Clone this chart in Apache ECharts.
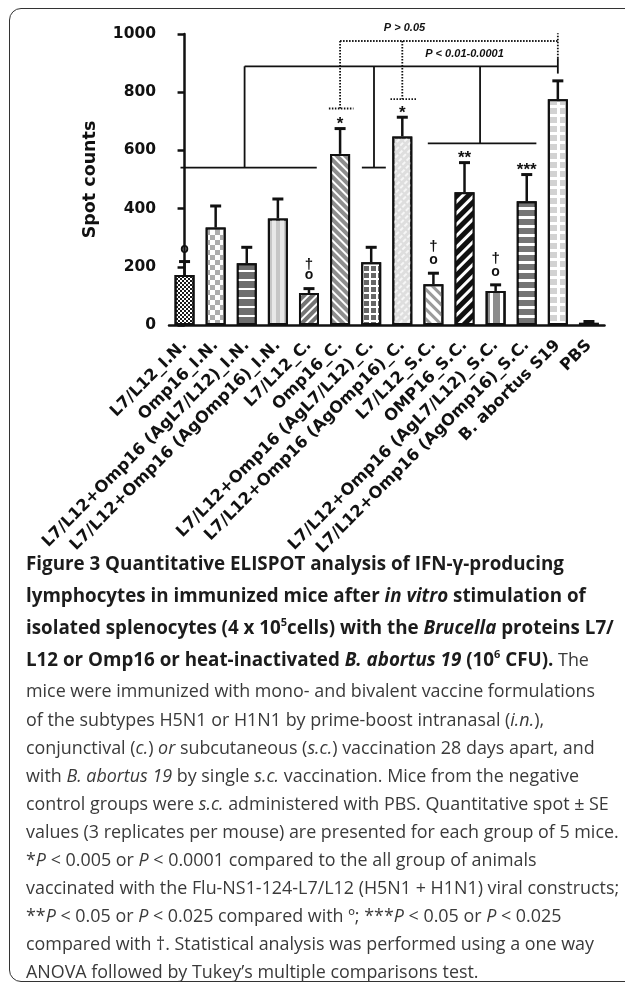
<!DOCTYPE html>
<html>
<head>
<meta charset="utf-8">
<script src="https://cdn.jsdelivr.net/npm/echarts@6/dist/echarts.min.js"></script>
<style>
  html, body { margin: 0; padding: 0; background: #fff; }
  #wrap { position: relative; width: 625px; height: 983px; overflow: hidden; }
  #frame { position: absolute; left: 9px; top: 8px; width: 660px; height: 974px;
           border: 1.5px solid #333; border-radius: 12px; box-sizing: border-box; }
  #chart { position: absolute; left: 0; top: 0; width: 625px; height: 983px; }
  .cap { position: absolute; left: 26px; white-space: nowrap; line-height: 28px;
         font-family: "Open Sans", sans-serif; font-size: 17.9px; color: #3a3a3a; }
  .cap.b { font-weight: bold; color: #1c1c1c; font-size: 18.8px; }
  .cap b { font-size: 18.8px; color: #1c1c1c; }
  .cap sup { font-size: 11px; line-height: 0; vertical-align: 8px; }
</style>
</head>
<body>
<div id="wrap">
  <div id="frame"></div>
  <div id="chart"></div>
  <div class="cap b" style="top:549px">Figure 3 Quantitative ELISPOT analysis of IFN-γ-producing</div>
  <div class="cap b" style="top:581px">lymphocytes in immunized mice after <i>in vitro</i> stimulation of</div>
  <div class="cap b" style="top:613px">isolated splenocytes (4 x 10<sup>5</sup>cells) with the <i>Brucella</i> proteins L7/</div>
  <div class="cap" style="top:645px"><b>L12 or Omp16 or heat-inactivated <i>B. abortus 19</i> (10<sup>6</sup> CFU).</b> The</div>
  <div class="cap" style="top:676px">mice were immunized with mono- and bivalent vaccine formulations</div>
  <div class="cap" style="top:705px">of the subtypes H5N1 or H1N1 by prime-boost intranasal (<i>i.n.</i>),</div>
  <div class="cap" style="top:733px">conjunctival (<i>c.</i>) <i>or</i> subcutaneous (<i>s.c.</i>) vaccination 28 days apart, and</div>
  <div class="cap" style="top:761px">with <i>B. abortus 19</i> by single <i>s.c.</i> vaccination. Mice from the negative</div>
  <div class="cap" style="top:789px">control groups were <i>s.c.</i> administered with PBS. Quantitative spot ± SE</div>
  <div class="cap" style="top:817px">values (3 replicates per mouse) are presented for each group of 5 mice.</div>
  <div class="cap" style="top:845px">*<i>P</i> &lt; 0.005 or <i>P</i> &lt; 0.0001 compared to the all group of animals</div>
  <div class="cap" style="top:873px">vaccinated with the Flu-NS1-124-L7/L12 (H5N1 + H1N1) viral constructs;</div>
  <div class="cap" style="top:901px">**<i>P</i> &lt; 0.05 or <i>P</i> &lt; 0.025 compared with º; ***<i>P</i> &lt; 0.05 or <i>P</i> &lt; 0.025</div>
  <div class="cap" style="top:929px">compared with †. Statistical analysis was performed using a one way</div>
  <div class="cap" style="top:957px">ANOVA followed by Tukey’s multiple comparisons test.</div>
</div>
<script>
// groups on the x axis
var groupNames = ["L7/L12_I.N.", "Omp16_I.N.", "L7/L12+Omp16 (AgL7/L12)_I.N.", "L7/L12+Omp16 (AgOmp16)_I.N.",
  "L7/L12_C.", "Omp16_C.", "L7/L12+Omp16 (AgL7/L12)_C.", "L7/L12+Omp16 (AgOmp16)_C.",
  "L7/L12_S.C.", "OMP16_S.C.", "L7/L12+Omp16 (AgL7/L12)_S.C.", "L7/L12+Omp16 (AgOmp16)_S.C.",
  "B. abortus S19", "PBS"];
// mean spot counts and SE
var spotMeans = [172, 335, 212, 366, 110, 588, 216, 648, 140, 456, 117, 425, 776, 8];
var spotSE = [46, 74, 55, 67, 15, 87, 51, 66, 38, 102, 21, 92, 63, 4];
var yTicks = [0, 200, 400, 600, 800, 1000];

// significance marks above bars: [group index, y value, text]
var sigMarks = [
  [0, 252, "o"], [4, 206, "†"], [4, 160, "o"], [5, 705, "*"], [7, 740, "*"],
  [8, 267, "†"], [8, 212, "o"], [9, 588, "**"], [10, 229, "†"], [10, 172, "o"], [11, 545, "***"]
];
// comparison brackets: [x1, y1, x2, y2, dotted] (x in group index units)
var bracketLines = [
  [-0.13, 541, 4.25, 541, 0], [1.93, 541, 1.93, 889, 0],
  [5.7, 541, 6.47, 541, 0], [6.09, 541, 6.09, 889, 0],
  [7.82, 624, 11.31, 624, 0], [9.5, 624, 9.5, 889, 0],
  [1.93, 889, 12.0, 889, 0], [12.0, 864, 12.0, 917, 0],
  [5.0, 976, 12.0, 976, 1], [5.0, 976, 5.0, 744, 1], [4.64, 744, 5.43, 744, 1],
  [7.0, 976, 7.0, 776, 1], [6.62, 776, 7.45, 776, 1], [12.0, 917, 12.0, 1003, 1]
];
var bracketTexts = [[7.07, 1021, "P > 0.05"], [9.0, 932, "P < 0.01-0.0001"]];

// fill + decal per bar
var barLooks = [
  { c: '#ffffff', d: { symbol: 'rect', symbolSize: 1, color: '#1a1a1a', dashArrayX: [[2, 2], [0, 2, 2, 0]], dashArrayY: [2, 0] } },
  { c: '#ffffff', d: { symbol: 'rect', symbolSize: 1, color: '#adadad', dashArrayX: [[5, 5], [0, 5, 5, 0]], dashArrayY: [5, 0] } },
  { c: '#6e6e6e', d: { symbol: 'rect', symbolSize: 1, color: '#ffffff', dashArrayX: [1, 0], dashArrayY: [1.5, 7] } },
  { c: '#c6c6c6', d: { symbol: 'rect', symbolSize: 1, color: '#e8e8e8', dashArrayX: [4, 4], dashArrayY: [1, 0] } },
  { c: '#747474', d: { symbol: 'rect', symbolSize: 1, color: '#ffffff', dashArrayX: [1, 0], dashArrayY: [1.5, 4], rotation: -Math.PI / 4 } },
  { c: '#8e8e8e', d: { symbol: 'rect', symbolSize: 1, color: '#ffffff', dashArrayX: [1, 0], dashArrayY: [1.5, 4], rotation: Math.PI / 4 } },
  { c: '#ffffff', d: { symbol: 'rect', symbolSize: 1, color: '#666666', dashArrayX: [5, 1.5], dashArrayY: [5, 1.5] } },
  { c: '#dedede', d: { symbol: 'rect', symbolSize: 1, color: '#f6f6f6', dashArrayX: [4, 2], dashArrayY: [2, 3], rotation: -Math.PI / 4 } },
  { c: '#ffffff', d: { symbol: 'rect', symbolSize: 1, color: '#9a9a9a', dashArrayX: [1, 0], dashArrayY: [3, 4], rotation: Math.PI / 4 } },
  { c: '#111111', d: { symbol: 'rect', symbolSize: 1, color: '#ffffff', dashArrayX: [1, 0], dashArrayY: [3, 5], rotation: -Math.PI / 4 } },
  { c: '#8c8c8c', d: { symbol: 'rect', symbolSize: 1, color: '#ffffff', dashArrayX: [2.5, 6.5], dashArrayY: [1, 0] } },
  { c: '#757575', d: { symbol: 'rect', symbolSize: 1, color: '#ffffff', dashArrayX: [1, 0], dashArrayY: [3, 5.5] } },
  { c: '#ffffff', d: { symbol: 'rect', symbolSize: 1, color: '#d2d2d2', dashArrayX: [7, 2.5], dashArrayY: [6, 3] } },
  { c: '#111111', d: null }
];

var chart = echarts.init(document.getElementById('chart'));

var barData = spotMeans.map(function (v, i) {
  var look = barLooks[i];
  var item = { value: v, itemStyle: { color: look.c } };
  if (look.d) item.itemStyle.decal = look.d;
  return item;
});

var option = {
  animation: false,
  grid: { left: 169, right: 20.5, top: 34, bottom: 658, containLabel: false },
  xAxis: [{
    type: 'category',
    data: groupNames,
    axisLine: { lineStyle: { color: '#111', width: 2.5 } },
    axisTick: { alignWithLabel: true, length: 7, lineStyle: { color: '#111', width: 2.5 } },
    axisLabel: { rotate: 45, margin: 18, interval: 0, color: '#111',
      fontFamily: 'DejaVu Sans', fontWeight: 'bold', fontSize: 16.3 }
  }, {
    type: 'value', min: -0.5, max: 13.5, show: false
  }],
  yAxis: {
    type: 'value', min: 0, max: 1000, interval: 200,
    name: 'Spot counts', nameLocation: 'middle', nameGap: 70,
    nameTextStyle: { fontFamily: 'DejaVu Sans', fontWeight: 'bold', fontSize: 17.5, color: '#111' },
    axisLine: { show: true, lineStyle: { color: '#111', width: 2.5 } },
    axisTick: { show: true, length: 7, lineStyle: { color: '#111', width: 2.5 } },
    splitLine: { show: false },
    axisLabel: { margin: 13, color: '#111', fontFamily: 'DejaVu Sans', fontWeight: 'bold', fontSize: 15.5,
      formatter: function (v) { return yTicks.indexOf(v) >= 0 ? String(v) : ''; } }
  },
  series: [
    {
      type: 'bar', data: barData, barWidth: 20,
      itemStyle: { borderColor: '#111', borderWidth: 2 }, z: 3
    },
    {
      type: 'custom', z: 2,
      data: spotMeans.map(function (v, i) { return [i, v, spotSE[i]]; }),
      renderItem: function (params, api) {
        var base = api.coord([api.value(0), api.value(1)]);
        var top = api.coord([api.value(0), api.value(1) + api.value(2)]);
        return { type: 'group', children: [
          { type: 'line', shape: { x1: base[0], y1: base[1], x2: top[0], y2: top[1] }, style: { stroke: '#111', lineWidth: 2.5 } },
          { type: 'line', shape: { x1: top[0] - 5.5, y1: top[1], x2: top[0] + 5.5, y2: top[1] }, style: { stroke: '#111', lineWidth: 3 } }
        ] };
      }
    },
    {
      type: 'custom', z: 5,
      data: sigMarks.map(function (m) { return [m[0], m[1]]; }),
      renderItem: function (params, api) {
        var p = api.coord([api.value(0), api.value(1)]);
        var t = sigMarks[params.dataIndex][2];
        var star = t.charAt(0) === '*';
        var dy = star ? 4 : (t === 'o' ? -3 : 0);
        return { type: 'text', x: p[0], y: p[1] + dy, style: {
          text: t, align: 'center', verticalAlign: 'middle', fill: '#111',
          font: 'bold ' + (star ? 17 : (t === 'o' ? 14 : 15)) + 'px "Liberation Sans", Arial, sans-serif'
        } };
      }
    },
    {
      type: 'custom', xAxisIndex: 1, z: 4,
      data: bracketLines.map(function (b) { return b; }),
      renderItem: function (params, api) {
        var a = api.coord([api.value(0), api.value(1)]);
        var b = api.coord([api.value(2), api.value(3)]);
        var dotted = api.value(4) === 1;
        return { type: 'line', shape: { x1: a[0], y1: a[1], x2: b[0], y2: b[1] },
          style: { stroke: '#111', lineWidth: 1.8, lineDash: dotted ? [1.5, 1.5] : null } };
      }
    },
    {
      type: 'custom', xAxisIndex: 1, z: 4,
      data: bracketTexts.map(function (b) { return [b[0], b[1]]; }),
      renderItem: function (params, api) {
        var p = api.coord([api.value(0), api.value(1)]);
        return { type: 'text', x: p[0], y: p[1], style: {
          text: bracketTexts[params.dataIndex][2], align: 'center', verticalAlign: 'middle', fill: '#111',
          font: 'italic bold 11px "Liberation Sans", Arial, sans-serif' } };
      }
    }
  ]
};
chart.setOption(option);
</script>
</body>
</html>
